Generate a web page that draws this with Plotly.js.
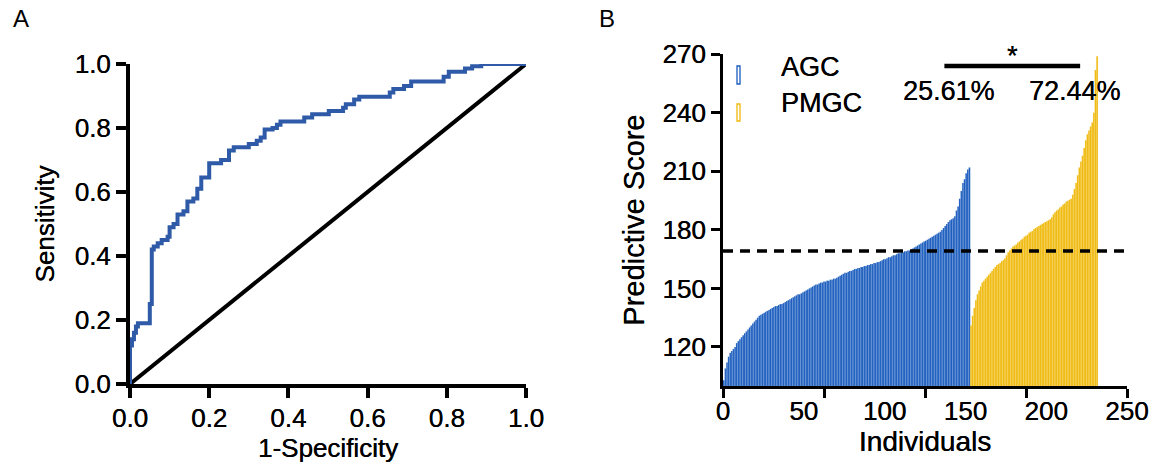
<!DOCTYPE html>
<html>
<head>
<meta charset="utf-8">
<script src="https://cdn.plot.ly/plotly-3.0.1.min.js"></script>
<style>html,body{margin:0;padding:0;background:#fff;}#chart{width:1153px;height:464px;}</style>
</head>
<body>
<div id="chart"></div>
<script>
// ---------- Panel A: ROC curve ----------
const rocFPR = [0, 0, 0.005, 0.01, 0.015, 0.02, 0.05, 0.055, 0.06, 0.07, 0.08, 0.095, 0.1, 0.11, 0.12, 0.135, 0.145, 0.16, 0.17, 0.18, 0.2, 0.23, 0.25, 0.262, 0.3, 0.32, 0.33, 0.34, 0.36, 0.371, 0.38, 0.44, 0.46, 0.502, 0.538, 0.545, 0.566, 0.579, 0.656, 0.665, 0.692, 0.71, 0.792, 0.805, 0.846, 0.864, 0.887, 1.0];
const rocTPR = [0, 0.12, 0.14, 0.16, 0.18, 0.19, 0.25, 0.42, 0.43, 0.44, 0.45, 0.46, 0.49, 0.50, 0.53, 0.54, 0.57, 0.58, 0.61, 0.645, 0.69, 0.70, 0.73, 0.74, 0.75, 0.76, 0.77, 0.795, 0.80, 0.81, 0.82, 0.833, 0.843, 0.853, 0.863, 0.874, 0.889, 0.898, 0.911, 0.922, 0.931, 0.945, 0.96, 0.976, 0.986, 0.993, 1.0, 1.0];
const refX = [0, 1];
const refY = [0, 1];
const rocTicks = [0, 0.2, 0.4, 0.6, 0.8, 1.0];
const rocTickText = ["0.0", "0.2", "0.4", "0.6", "0.8", "1.0"];

// ---------- Panel B: predictive scores (sorted) ----------
const agcScores = [
  103,109,112,115,117,118,119,120,122,123,
  124,125,126,127,128,129,130,131,132,133,
  134,135,136,136.5,137,137.5,138,138.5,139,139.5,
  140,140.5,141,141,141.5,142,142,142.5,143,143.5,
  144,144.5,145,145.5,146,146.5,147,147,147.5,148,
  148.5,149,149.5,150,150.5,151,151.5,152,152,152.5,
  153,153,153.5,153.5,154,154,154.5,154.5,155,155,
  155.5,156,156.5,157,157.5,158,158,158.5,159,159,
  159.5,160,160,160.5,160.5,161,161,161.5,161.5,162,
  162,162.5,162.5,163,163,163.5,163.5,164,164.5,165,
  165,165.5,166,166,166.5,167,167,167.5,168,168,
  168.5,168.5,169,169,169.5,169.5,170,170.5,171,171.5,
  172,172.5,173,173.5,174,174.5,175,175.5,176,176.5,
  177,177.5,178,178.5,179,180,181,182,183,184,
  185,185.5,186,187,190,192,196,200,204,206,
  209,211,212
];
const pmgcScores = [
  131,136,140,144,147,149,151,153,154,155,
  156,157,158,159,160,161,162,162.5,163,164,
  164.5,165.5,167,168.5,169.5,170.5,171.5,172,172.5,173.5,
  174,175,175.5,176.5,177,177.5,178.5,179,179.5,180.5,
  181,181.5,182,182.5,183,183.5,184,184.5,185,185.5,
  186.5,188,189,190,190.5,191.5,192,193,193.5,194.5,
  195,195.5,196,198,201,204,208,212,215,218,
  222,226,229,231,233,235,240,262,269
];
const groupNames = ["AGC", "PMGC"];
const SCORE_FLOOR = 100;
const THRESHOLD = 169.2;
const pctLabels = ["25.61%", "72.44%"];
const pctLabelX = [140, 218];
const sigBarX = [137, 221];
const scoreTicks = [120, 150, 180, 210, 240, 270];
const indivLabelTicks = [0, 50, 100, 150, 200, 250];
const indivMarkTicks = [0, 62.5, 125, 187.5, 250];

const BLUE = "#1a5bbd";
const YELLOW = "#efb90c";
const ROC_BLUE = "#2e5aa7";
const FONT = "Liberation Sans, Arial, sans-serif";
const THICK = "0.3px 0 0 #000";
const f = (size) => ({size: size, family: FONT, color: "#000", shadow: THICK});

const agcX = agcScores.map((v, i) => i + 0.5);
const pmgcX = pmgcScores.map((v, i) => agcScores.length + i + 0.5);

const traces = [
  {x: refX, y: refY, xaxis: "x", yaxis: "y", mode: "lines",
   line: {color: "#000", width: 4}, showlegend: false, hoverinfo: "skip"},
  {x: rocFPR, y: rocTPR, xaxis: "x", yaxis: "y", mode: "lines",
   line: {color: ROC_BLUE, width: 4, shape: "hv"}, showlegend: false, name: "ROC"},
  {type: "bar", x: agcX, y: agcScores.map(v => v - SCORE_FLOOR), base: SCORE_FLOOR, width: 1,
   xaxis: "x2", yaxis: "y2", name: groupNames[0],
   marker: {color: BLUE, line: {color: "rgba(200,222,250,0.45)", width: 0.3}}, showlegend: false},
  {type: "bar", x: pmgcX, y: pmgcScores.map(v => v - SCORE_FLOOR), base: SCORE_FLOOR, width: 1,
   xaxis: "x2", yaxis: "y2", name: groupNames[1],
   marker: {color: YELLOW, line: {color: "rgba(255,238,170,0.5)", width: 0.3}}, showlegend: false}
];

const W = 1153, H = 464;
const px = v => v / W, py = v => 1 - v / H;

const axisCommon = {
  showgrid: false, zeroline: false, showline: true, linecolor: "#000",
  ticks: "outside", tickcolor: "#000", color: "#000", fixedrange: true
};

const layout = {
  width: W, height: H,
  margin: {l: 0, r: 0, t: 0, b: 0},
  paper_bgcolor: "#fff", plot_bgcolor: "rgba(0,0,0,0)",
  font: {family: FONT, color: "#000"},
  barmode: "overlay", bargap: 0,
  showlegend: false,
  xaxis: Object.assign({}, axisCommon, {
    domain: [px(130), px(526)], anchor: "y", range: [0, 1],
    linewidth: 4, tickwidth: 4, ticklen: 10,
    tickmode: "array", tickvals: rocTicks, ticktext: rocTickText,
    tickfont: f(26), ticklabelstandoff: -2,
    title: {text: "1-Specificity", font: f(26), standoff: 0}
  }),
  yaxis: Object.assign({}, axisCommon, {
    domain: [py(384), py(64)], anchor: "x", range: [0, 1],
    linewidth: 4, tickwidth: 4, ticklen: 10,
    tickmode: "array", tickvals: rocTicks, ticktext: rocTickText,
    tickfont: f(26),
    title: {text: "Sensitivity", font: f(26), standoff: 14}
  }),
  xaxis2: Object.assign({}, axisCommon, {
    domain: [px(723), px(1127)], anchor: "y2", range: [0, 250],
    linewidth: 3, ticks: "",
    tickmode: "array", tickvals: indivLabelTicks,
    minor: {tickmode: "array", tickvals: indivMarkTicks, ticks: "outside", ticklen: 9, tickwidth: 3, tickcolor: "#000"},
    tickfont: f(26),
    title: {text: "Individuals", font: f(28), standoff: 3}
  }),
  yaxis2: Object.assign({}, axisCommon, {
    domain: [py(386), py(54.3)], anchor: "x2", range: [SCORE_FLOOR, 270],
    linewidth: 3, tickwidth: 3, ticklen: 9,
    tickmode: "array", tickvals: scoreTicks,
    tickfont: f(26),
    title: {text: "Predictive Score", font: f(29), standoff: 10}
  }),
  shapes: [
    {type: "line", xref: "x2", yref: "y2", x0: 0, x1: 250, y0: THRESHOLD, y1: THRESHOLD,
     line: {color: "#000", width: 3.5, dash: "10px,7px"}},
    {type: "line", xref: "x2", yref: "y2", x0: sigBarX[0], x1: sigBarX[1], y0: 264, y1: 264,
     line: {color: "#000", width: 4.5}},
    {type: "rect", xref: "paper", yref: "paper", x0: px(737), x1: px(740), y0: py(84), y1: py(66),
     line: {color: BLUE, width: 1.3}, fillcolor: "rgba(0,0,0,0)"},
    {type: "rect", xref: "paper", yref: "paper", x0: px(737), x1: px(740), y0: py(121), y1: py(104),
     line: {color: YELLOW, width: 1.3}, fillcolor: "rgba(0,0,0,0)"}
  ],
  annotations: [
    {text: "A", xref: "paper", yref: "paper", x: px(11), y: py(19), xanchor: "left", yanchor: "middle",
     showarrow: false, font: {size: 24, family: FONT}},
    {text: "B", xref: "paper", yref: "paper", x: px(597), y: py(19), xanchor: "left", yanchor: "middle",
     showarrow: false, font: {size: 24, family: FONT}},
    {text: groupNames[0], xref: "paper", yref: "paper", x: px(779), y: py(67), xanchor: "left", yanchor: "middle",
     showarrow: false, font: f(27)},
    {text: groupNames[1], xref: "paper", yref: "paper", x: px(779), y: py(103), xanchor: "left", yanchor: "middle",
     showarrow: false, font: f(27)},
    {text: "*", xref: "x2", yref: "y2", x: (sigBarX[0] + sigBarX[1]) / 2, y: 264, xanchor: "center", yanchor: "bottom",
     showarrow: false, font: f(27), yshift: -7},
    {text: pctLabels[0], xref: "x2", yref: "y2", x: pctLabelX[0], y: 251.2, xanchor: "center", yanchor: "middle",
     showarrow: false, font: f(27)},
    {text: pctLabels[1], xref: "x2", yref: "y2", x: pctLabelX[1], y: 251.2, xanchor: "center", yanchor: "middle",
     showarrow: false, font: f(27)}
  ]
};

Plotly.newPlot("chart", traces, layout, {displayModeBar: false, staticPlot: true});
</script>
</body>
</html>
